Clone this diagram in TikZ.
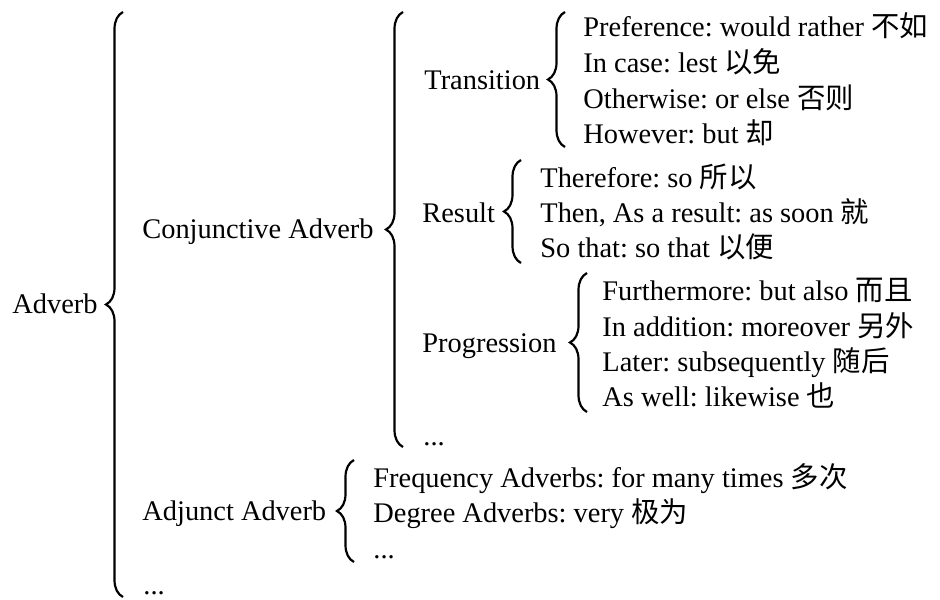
\documentclass[tikz,border=0pt]{standalone}
\usepackage{fontspec}
\setmainfont{Liberation Serif}
\newfontfamily\cjk{Noto Sans CJK SC}
\usetikzlibrary{decorations.pathreplacing}
\frenchspacing
\tikzset{
  txt/.style={anchor=base west, inner sep=0pt, font=\fontsize{14.2}{17}\selectfont\frenchspacing},
  brc/.style={decorate, decoration={brace, amplitude=8.5pt}, line width=1.1pt},
}
\begin{document}
\begin{tikzpicture}[x=0.5pt, y=-0.5pt]
\useasboundingbox (0,0) rectangle (940,599);
% labels
\node[txt] (adverb) at (12,313) {Adverb};
\node[txt] (conj) at (142,238) {Conjunctive Adverb};
\node[txt] (trans) at (424,90) {Transition};
\node[txt] (t1) at (583,37) {Preference: would rather {\cjk 不如}};
\node[txt] (t2) at (583,72.5) {In case: lest {\cjk 以免}};
\node[txt] (t3) at (583,108) {Otherwise: or else {\cjk 否则}};
\node[txt] (t4) at (583,143) {However: but {\cjk 却}};
\node[txt] (result) at (422,222) {Result};
\node[txt] (r1) at (540,187) {Therefore: so {\cjk 所以}};
\node[txt] (r2) at (540,222) {Then, As a result: as soon {\cjk 就}};
\node[txt] (r3) at (540,257) {So that: so that {\cjk 以便}};
\node[txt] (prog) at (422,352) {Progression};
\node[txt] (p1) at (602,300) {Furthermore: but also {\cjk 而且}};
\node[txt] (p2) at (602,336) {In addition: moreover {\cjk 另外}};
\node[txt] (p3) at (602,371) {Later: subsequently {\cjk 随后}};
\node[txt] (p4) at (602,406) {As well: likewise {\cjk 也}};
\node[txt] (cdots) at (423,445) {...};
\node[txt] (adj) at (142,520) {Adjunct Adverb};
\node[txt] (a1) at (373,487) {Frequency Adverbs: for many times {\cjk 多次}};
\node[txt] (a2) at (373,522) {Degree Adverbs: very {\cjk 极为}};
\node[txt] (adots) at (373,558) {...};
\node[txt] (bdots) at (143,594) {...};
% brace ends
\coordinate (bigT) at (123,12);
\coordinate (bigB) at (123,597);
\coordinate (conjT) at (403,12);
\coordinate (conjB) at (403,447);
\coordinate (trT) at (565,12);
\coordinate (trB) at (565,147);
\coordinate (reT) at (521,160);
\coordinate (reB) at (521,263);
\coordinate (prT) at (587,273);
\coordinate (prB) at (587,412);
\coordinate (adT) at (354,460);
\coordinate (adB) at (354,562);
% braces
\draw[brc] (bigB) -- (bigT);
\draw[brc] (conjB) -- (conjT);
\draw[brc] (trB) -- (trT);
\draw[brc] (reB) -- (reT);
\draw[brc] (prB) -- (prT);
\draw[brc] (adB) -- (adT);
\end{tikzpicture}
\end{document}
